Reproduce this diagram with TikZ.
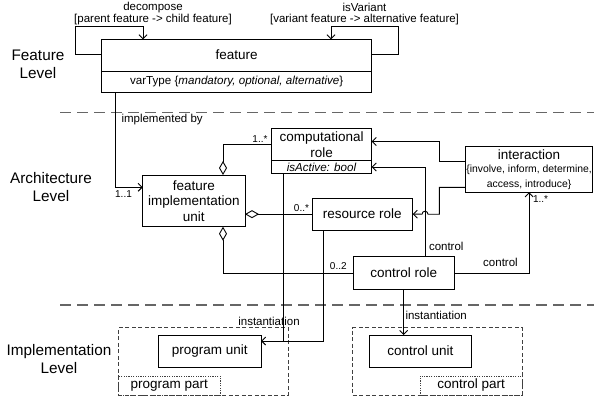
\documentclass[tikz,border=0pt]{standalone}
\usepackage{fontspec}
\setmainfont{Liberation Sans}
\usetikzlibrary{arrows.meta,calc}
\newcommand\setfont{\fontsize{10.4}{11}\selectfont}
\begin{document}
\begin{tikzpicture}[x=1pt,y=-1pt,
  every node/.style={inner sep=0pt, outer sep=0pt},
  boxtxt/.style={font=\fontsize{13.5}{15.5}\selectfont},
  umlbox/.style={draw, line width=0.9pt, boxtxt, align=center},
  attrbox/.style={draw, line width=0.9pt, font=\fontsize{11.6}{13}\selectfont},
  small/.style={font=\fontsize{11.5}{13}\selectfont},
  mult/.style={font=\fontsize{10}{12}\selectfont},
  lvl/.style={font=\fontsize{15.3}{18}\selectfont, align=center},
  conn/.style={line width=0.9pt},
  arr/.style={conn, -{Straight Barb[length=4pt,width=8pt]}},
  agg/.style={conn, {Diamond[open,length=14pt,width=8pt]}-},
  sep/.style={draw=black!60, line width=1.4pt, dash pattern=on 11pt off 6pt},
  part/.style={draw=black!75, line width=0.9pt, dash pattern=on 4pt off 2.5pt},
  tab/.style={draw=black!75, line width=0.8pt, dash pattern=on 1.2pt off 1.2pt, boxtxt}
]
\useasboundingbox (0,0) rectangle (594,397);

% level captions
\node[lvl] (lvlF) at (38,64) {Feature\\Level};
\node[lvl] (lvlA) at (51,187) {Architecture\\Level};
\node[lvl] (lvlI) at (59,359) {Implementation\\Level};

% level separators
\draw[sep] (60,112.3) -- (594,112.3);
\draw[sep] (60,305) -- (594,305);

% feature level
\node[umlbox, minimum width=270pt, minimum height=31.7pt] (feature) at (236.7,55.15) {feature};
\node[attrbox, minimum width=270pt, minimum height=21.3pt] (feattype) at (236.7,81.65)
  {varType \{\textit{mandatory, optional, alternative}\}};

\draw[arr] (feature.west |- 0,54) -| (75.3,26) -| (feature.north -| 143,0);
\draw[arr] (feature.east |- 0,54) -| (398.3,26) -| (feature.north -| 331,0);
\node[small] (decomp) at (153,7.5) {decompose};
\node[small] (decompr) at (153,20) {[parent feature -> child feature]};
\node[small] (isvar) at (364.5,7.5) {isVariant};
\node[small] (isvarr) at (364.5,20) {[variant feature -> alternative feature]};

% architecture level
\node[umlbox, minimum width=102.3pt, minimum height=51.7pt] (fiu) at (193.85,200.85)
  {feature\\implementation\\unit};
\node[umlbox, minimum width=100.2pt, minimum height=32.4pt] (comp) at (321.6,144.5)
  {computational\\role};
\node[attrbox, minimum width=100.2pt, minimum height=12.6pt] (compattr) at (321.6,167)
  {\textit{isActive: bool}};
\node[umlbox, minimum width=100.7pt, minimum height=31.7pt] (resource) at (362.35,214.15)
  {resource role};
\node[umlbox, minimum width=100.7pt, minimum height=32.6pt] (control) at (403.65,273)
  {control role};
\node[umlbox, minimum width=126.8pt, minimum height=45.6pt] (inter) at (529.1,169.5)
  {interaction\\[-2.5pt]\setfont\{involve, inform, determine,\\[-1pt]\setfont access, introduce\}};

\draw[arr] (feattype.south -| 115.7,0) |- (fiu.west |- 0,187.3);
\node[small, anchor=west] (implby) at (121.5,120) {implemented by};
\node[mult] (m11) at (123.5,194) {1..1};

\draw[agg] (fiu.north -| 223,0) |- (comp.west);
\node[mult] (m1s) at (260,139.5) {1..*};
\draw[agg] (fiu.east |- resource.west) -- (resource.west);
\node[mult] (m0s) at (301.5,208.5) {0..*};
\draw[agg] (fiu.south -| 223,0) |- (control.west);
\node[mult] (m02) at (338.3,266.5) {0..2};

\draw[arr] (inter.west |- 0,161) -| (439.3,141.5) -- (comp.east |- 0,141.5);
\draw[arr] (inter.west |- 0,187.3) -| (439.3,214.2) -- (428,214.2)
  arc[start angle=0, end angle=180, radius=3pt] -- (resource.east);

\draw[arr] (control.north -| 425,0) |- (compattr.east);
\node[small, anchor=west] (ctl1) at (429,246.5) {control};
\draw[arr] (control.east) -| (inter.south);
\node[small] (ctl2) at (500.5,262) {control};
\node[mult, anchor=west] (m1s2) at (533,199) {1..*};

% implementation level
\node[part, minimum width=170pt, minimum height=67.3pt] (ppart) at (203.3,361.35) {};
\node[tab, minimum width=101.7pt, minimum height=19pt] (ptab) at (169.15,385.5) {program part};
\node[umlbox, minimum width=102.7pt, minimum height=32.3pt] (punit) at (209.65,351.15) {program unit};

\node[part, minimum width=169.6pt, minimum height=67.3pt] (cpart) at (437.5,361.35) {};
\node[tab, minimum width=102.3pt, minimum height=19pt] (ctab) at (471.15,385.5) {control part};
\node[umlbox, minimum width=102.7pt, minimum height=32.3pt] (cunit) at (420.35,351.15) {control unit};

\coordinate (j) at (283,341);
\draw[conn] (compattr.south -| j) -- (j);
\draw[arr] (resource.south -| 323.3,0) |- (punit.east |- j);
\node[small] (inst1) at (269,321) {instantiation};
\draw[arr] (control.south) -- (control.south |- cunit.north);
\node[small, anchor=west] (inst2) at (405.5,315) {instantiation};
\end{tikzpicture}
\end{document}
